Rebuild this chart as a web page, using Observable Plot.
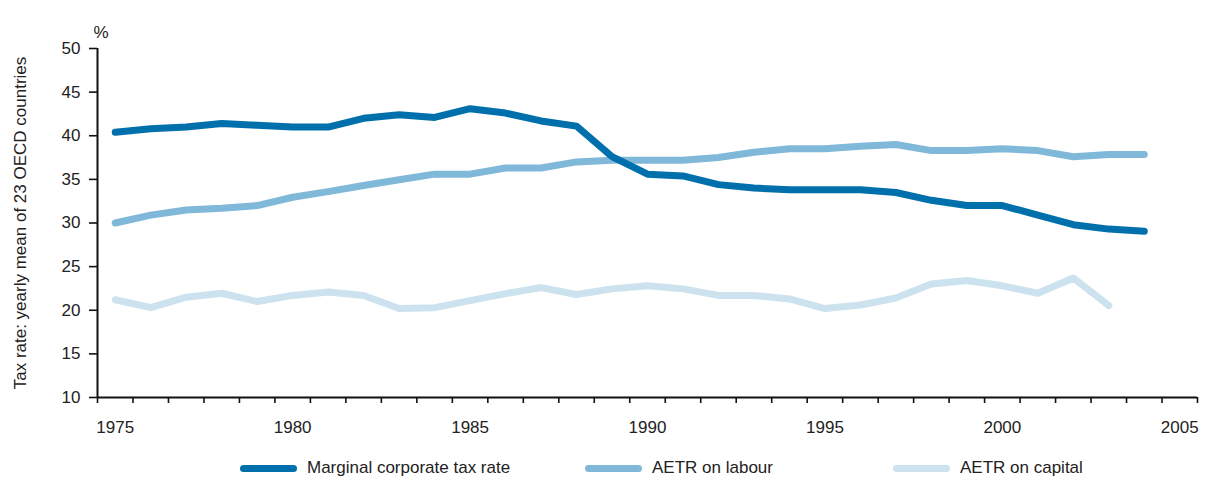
<!DOCTYPE html>
<html>
<head>
<meta charset="utf-8">
<script src="https://cdn.jsdelivr.net/npm/d3@7"></script>
<script src="https://cdn.jsdelivr.net/npm/@observablehq/plot@0.6"></script>
<style>
  html, body { margin: 0; padding: 0; background: #fff; }
  body { width: 1205px; height: 477px; position: relative; overflow: hidden; font-family: "Liberation Sans", Arial, sans-serif; }
  #legend { position: absolute; left: 0; top: 456px; width: 1205px; height: 24px; font-size: 17px; color: #222; }
  .item { position: absolute; top: 0; display: flex; align-items: center; height: 24px; }
  .sw { width: 57px; height: 7px; border-radius: 4px; margin-right: 10px; }
</style>
</head>
<body>
<div id="chart"></div>
<div id="legend"></div>
<script>
const years = d3.range(1975, 2005);
const seriesNames = ["Marginal corporate tax rate", "AETR on labour", "AETR on capital"];
const seriesColors = ["#0070ac", "#7fb8d8", "#cce2ef"];
const corporate = [40.4, 40.8, 41.0, 41.4, 41.2, 41.0, 41.0, 42.0, 42.4, 42.1, 43.1, 42.6, 41.7, 41.1, 37.6, 35.6, 35.4, 34.4, 34.0, 33.8, 33.8, 33.8, 33.5, 32.6, 32.0, 32.0, 30.9, 29.8, 29.3, 29.05];
const labour = [30.0, 30.9, 31.5, 31.7, 32.0, 32.95, 33.6, 34.3, 34.95, 35.6, 35.6, 36.3, 36.3, 37.0, 37.2, 37.2, 37.2, 37.5, 38.1, 38.5, 38.5, 38.8, 39.0, 38.3, 38.3, 38.5, 38.3, 37.6, 37.85, 37.85];
const capital = [21.2, 20.3, 21.5, 21.95, 21.0, 21.7, 22.1, 21.7, 20.2, 20.3, 21.1, 21.9, 22.6, 21.8, 22.45, 22.8, 22.45, 21.7, 21.7, 21.3, 20.2, 20.6, 21.4, 23.0, 23.4, 22.8, 21.95, 23.7, 20.55];
const yTicks = [10, 15, 20, 25, 30, 35, 40, 45, 50];
const xLabelTicks = [1975, 1980, 1985, 1990, 1995, 2000, 2005];
const xBoundaryTicks = d3.range(1974.5, 2006, 1);

const allSeries = [corporate, labour, capital];
const rows = [];
allSeries.forEach((vals, i) => vals.forEach((v, j) => rows.push({year: years[j], value: v, series: seriesNames[i]})));

const lineOpts = {strokeWidth: 7, strokeLinecap: "round", strokeLinejoin: "round"};

const chart = Plot.plot({
  width: 1205,
  height: 445,
  marginLeft: 97,
  marginRight: 8,
  marginTop: 48,
  marginBottom: 48,
  style: {fontFamily: "Liberation Sans, Arial, sans-serif", fontSize: "17px", color: "#222", background: "#fff"},
  x: {domain: [1974.5, 2005.5]},
  y: {domain: [10, 50]},
  marks: [
    Plot.axisY({ticks: yTicks, tickSize: 8, tickPadding: 9, strokeWidth: 1.6, stroke: "#111", fill: "#222", fontSize: 17,
      label: "Tax rate: yearly mean of 23 OECD countries", labelAnchor: "center", labelArrow: "none", labelOffset: 84}),
    Plot.axisX({ticks: xBoundaryTicks, tickSize: 6, text: null, strokeWidth: 1.6, stroke: "#111", label: null}),
    Plot.axisX({ticks: xLabelTicks, tickSize: 0, tickPadding: 23, tickFormat: d => String(d), fill: "#222", fontSize: 17, label: null}),
    Plot.ruleX([1974.5], {y1: 10, y2: 50, stroke: "#111", strokeWidth: 2}),
    Plot.ruleY([10], {x1: 1974.5, x2: 2005.5, stroke: "#111", strokeWidth: 2}),
    Plot.text(["%"], {frameAnchor: "top-left", dx: -4, dy: -23, text: d => d, fill: "#222", fontSize: 17}),
    Plot.line(rows.filter(d => d.series === seriesNames[2]), {x: "year", y: "value", stroke: seriesColors[2], ...lineOpts}),
    Plot.line(rows.filter(d => d.series === seriesNames[1]), {x: "year", y: "value", stroke: seriesColors[1], ...lineOpts}),
    Plot.line(rows.filter(d => d.series === seriesNames[0]), {x: "year", y: "value", stroke: seriesColors[0], ...lineOpts})
  ]
});
document.getElementById("chart").appendChild(chart);

const legendLefts = [240, 585, 893];
const legend = document.getElementById("legend");
seriesNames.forEach((name, i) => {
  const item = document.createElement("div");
  item.className = "item";
  item.style.left = legendLefts[i] + "px";
  const sw = document.createElement("span");
  sw.className = "sw";
  sw.style.background = seriesColors[i];
  const tx = document.createElement("span");
  tx.textContent = name;
  item.appendChild(sw);
  item.appendChild(tx);
  legend.appendChild(item);
});
</script>
</body>
</html>
